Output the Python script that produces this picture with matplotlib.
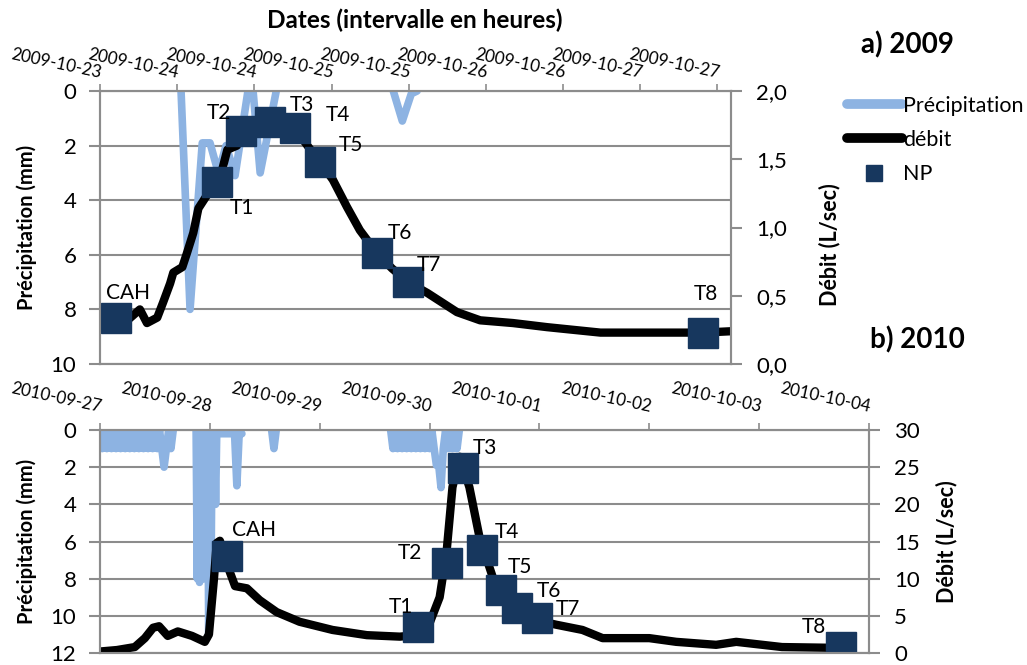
import numpy as np
import matplotlib.pyplot as plt
from matplotlib.lines import Line2D

plt.rcParams['font.family'] = ['Lato', 'DejaVu Sans']

# ---------------- 2009 event (hours since 2009-10-23 00:00) ----------------
dates_2009 = ['2009-10-23', '2009-10-24', '2009-10-24', '2009-10-25', '2009-10-25',
              '2009-10-26', '2009-10-26', '2009-10-27', '2009-10-27']

flow_h_2009 = [0.0, 2.3, 3.1, 4.5, 6.2, 7.3, 8.9, 9.8, 10.9, 11.4,
               12.8, 13.5, 14.5, 15.3, 16.4, 18.7, 19.8, 21.3, 21.8, 24.1,
               26.4, 28.8, 30.3, 31.6, 34.2, 36.2, 38.4, 40.4, 43.1, 45.4,
               47.9, 50.9, 55.5, 59.1, 64.2, 69.5, 77.8, 85.1, 93.8, 98.1]
flow_2009 = [0.33, 0.34, 0.26, 0.33, 0.40, 0.30, 0.34, 0.45, 0.59, 0.67,
             0.71, 0.81, 0.96, 1.14, 1.22, 1.37, 1.57, 1.60, 1.70, 1.76,
             1.77, 1.76, 1.73, 1.64, 1.48, 1.35, 1.15, 0.98, 0.81, 0.70,
             0.60, 0.52, 0.38, 0.32, 0.30, 0.27, 0.23, 0.23, 0.23, 0.24]

rain_h_2009 = [12.6, 14.0, 15.9, 17.1, 18.4, 19.6, 21.0, 23.0, 23.8, 24.9, 27.4,
               np.nan, 45.6, 47.0, 48.4, 49.3]
rain_2009 = [0, 8.0, 1.9, 1.9, 3.0, 2.0, 3.1, 0, 0, 3.0, 0,
             np.nan, 0, 1.1, 0.1, 0]

np_names = ['CAH', 'T1', 'T2', 'T3', 'T4', 'T5', 'T6', 'T7', 'T8']
np_h_2009 = [2.5, 18.2, 21.9, 26.4, 30.3, 34.2, 43.1, 47.9, 93.8]
np_q_2009 = [0.34, 1.33, 1.71, 1.77, 1.73, 1.48, 0.81, 0.60, 0.23]

# ---------------- 2010 event (hours since 2010-09-27 00:00) ----------------
dates_2010 = ['2010-09-27', '2010-09-28', '2010-09-29', '2010-09-30',
              '2010-10-01', '2010-10-02', '2010-10-03', '2010-10-04']

flow_h_2010 = [0.0, 3.7, 7.6, 9.8, 11.6, 12.9, 14.8, 17.0, 20.1, 22.9,
               23.8, 24.9, 25.5, 26.2, 27.7, 29.5, 32.1, 34.9, 38.6, 43.6,
               50.8, 58.3, 65.5, 69.2, 72.0, 74.2, 75.7, 77.0, 78.6, 80.7,
               82.9, 85.8, 87.7, 91.2, 95.4, 99.7, 105.4, 109.8, 120.0, 125.9,
               134.6, 139.0, 149.0, 159.9, 162.6]
flow_2010 = [0.2, 0.4, 0.8, 2.0, 3.4, 3.6, 2.3, 2.9, 2.3, 1.5,
             2.5, 10.0, 14.8, 15.1, 12.0, 9.0, 8.7, 7.1, 5.5, 4.2,
             3.1, 2.4, 2.2, 2.4, 4.0, 7.5, 13.5, 22.3, 26.4, 22.3,
             15.6, 10.2, 8.2, 6.1, 4.4, 3.8, 3.1, 2.0, 2.0, 1.5,
             1.1, 1.5, 0.8, 0.7, 0.8]

# rain, first day (half-hour readings)
rain_a_h = [0.5, 1.0, 1.5, 2.0, 2.5, 3.0, 3.5, 4.0, 4.5, 5.0, 5.5, 6.0, 6.5, 7.0, 7.5, 8.0,
            8.5, 9.0, 9.5, 10.0, 10.5, 11.0, 11.5, 12.0, 12.5, 13.0, 13.5, 14.0, 14.5, 15.0,
            15.5, 16.0]
rain_a = [1, 0, 1, 0, 1, 0, 1, 0, 1, 0, 1, 0, 1, 0, 1, 0,
          1, 0, 1, 0, 1, 0, 1, 0, 1, 0, 1, 2.0, 1, 0,
          1, 0]
# storm of 2010-09-27 evening
rain_b_h = [21.0, 21.25, 21.5, 21.75, 22.0, 22.25, 22.5, 22.75, 23.0, 23.25, 23.5, 23.75,
            24.0, 24.25, 24.5, 24.75, 25.0, 25.25, 25.5, 29.4, 29.9, 30.4, 31.0]
rain_b = [0, 8.0, 0, 8.2, 0, 8.0, 0, 8.0, 0, 8.0, 0, 11.0,
          0, 8.0, 0, 4.0, 0, 4.0, 0.2, 0.2, 3.0, 0.2, 0.2]
rain_c_h = [37.5, 38.0, 38.5]
rain_c = [0, 1.0, 0]
# rain of 2010-09-29 / 30
rain_d_h = [63.5, 64.0, 64.5, 65.0, 65.5, 66.0, 66.5, 67.0, 67.5, 68.0, 68.5, 69.0,
            69.5, 70.0, 70.5, 71.0, 71.5, 72.0, 72.5, 73.0, 73.5, 74.0, 74.5, 75.0,
            75.5, 76.0, 76.5, 77.0, 77.5, 78.0, 78.5]
rain_d = [0, 1, 0, 1, 0, 1, 0, 1, 0, 1, 0, 1,
          0, 1, 0, 1, 0, 1, 0, 1, 1.9, 1.9, 3.1, 1.0,
          0, 1, 0, 1, 0, 1, 0]

np_h_2010 = [27.7, 69.4, 75.7, 79.2, 83.4, 87.7, 91.2, 95.4, 161.9]
np_q_2010 = [13.1, 3.5, 12.1, 24.9, 13.9, 8.5, 6.1, 4.7, 0.8]

# label offsets in pixels (dx, dy) from each square
offs_2009 = [(12, 25), (25, -26), (-22, 18), (32, 17), (43, 13), (31, 17), (23, 20), (21, 17), (3, 39)]
offs_2010 = [(27, 26), (-17, 20), (-37, 10), (22, 20), (25, 18), (19, 23), (31, 17), (31, 9), (-27, 20)]

rain_ticks_2009 = [0, 2, 4, 6, 8, 10]
flow_ticks_2009 = ['0,0', '0,5', '1,0', '1,5', '2,0']
rain_ticks_2010 = [0, 2, 4, 6, 8, 10, 12]
flow_ticks_2010 = [0, 5, 10, 15, 20, 25, 30]

BLUE = '#8DB3E2'
NAVY = '#17375E'
GRID = '#8C8C8C'

W, H = 1027, 665
fig = plt.figure(figsize=(W / 100, H / 100), dpi=100)


def px_axes(left, top, right, bottom):
    return fig.add_axes([left / W, 1 - bottom / H, (right - left) / W, (bottom - top) / H])


def style(ax, ax2):
    for a in (ax, ax2):
        for s in a.spines.values():
            s.set_color(GRID)
            s.set_linewidth(1.5)
    ax.grid(axis='y', color=GRID, lw=1.5)
    ax.set_axisbelow(True)
    ax.tick_params(axis='y', direction='out', length=8, width=1.5, color=GRID,
                   labelsize=16, pad=9)
    ax2.tick_params(axis='y', direction='out', length=8, width=1.5, color=GRID,
                    labelsize=16, pad=10)
    ax.tick_params(axis='x', direction='out', length=5, width=1.2, color=GRID,
                   labelsize=12.3, top=True, bottom=False, labeltop=True, labelbottom=False)


def draw(ax, ax2, rain_h, rain, flow_h, flow, pts_h, pts_q, offs):
    ax.plot(rain_h, rain, color=BLUE, lw=5.5, solid_joinstyle='round', solid_capstyle='round')
    ax2.plot(flow_h, flow, color='black', lw=6, solid_joinstyle='round', solid_capstyle='round')
    ax2.plot(pts_h, pts_q, ls='none', marker='s', ms=21, color=NAVY)
    for name, h, q, (dx, dy) in zip(np_names, pts_h, pts_q, offs):
        ax2.annotate(name, (h, q), xytext=(dx, dy), textcoords='offset pixels',
                     ha='center', va='center', fontsize=15)


def labels(ax, ax2, left_x, right_x, right_y):
    ax.set_ylabel('Précipitation (mm)', fontsize=14.5, fontweight='bold')
    ax.yaxis.set_label_coords(left_x, 0.5)
    ax.yaxis.label.set_va('center')
    ax2.set_ylabel('Débit (L/sec)', fontsize=15.5, fontweight='bold')
    ax2.yaxis.set_label_coords(right_x, right_y)
    ax2.yaxis.label.set_va('center')


# ---- panel a) 2009 ----
ax = px_axes(100, 91, 731, 364)
ax2 = ax.twinx()
ax.set_xlim(0, 98.1)
ax.set_ylim(10, 0)
ax2.set_ylim(0, 2)
style(ax, ax2)
ax.set_yticks(rain_ticks_2009)
ax2.set_yticks([0, 0.5, 1.0, 1.5, 2.0], flow_ticks_2009)
ax.set_xticks(np.arange(0, 97, 12), dates_2009, rotation=-12, ha='right',
              va='bottom', rotation_mode='anchor')
ax.tick_params(axis='x', pad=2)
draw(ax, ax2, rain_h_2009, rain_2009, flow_h_2009, flow_2009, np_h_2009, np_q_2009, offs_2009)
labels(ax, ax2, (27 - 100) / 631, (830 - 100) / 631, (364 - 245) / 273)

# ---- panel b) 2010 ----
bx = px_axes(100, 430, 869, 653)
bx2 = bx.twinx()
bx.set_xlim(0, 168)
bx.set_ylim(12, 0)
bx2.set_ylim(0, 30)
style(bx, bx2)
bx.set_yticks(rain_ticks_2010)
bx2.set_yticks(flow_ticks_2010)
bx.set_xticks(np.arange(0, 169, 24), dates_2010, rotation=-12, ha='right',
              va='bottom', rotation_mode='anchor')
bx.tick_params(axis='x', pad=6)
nan = [np.nan]
rain_h_2010 = rain_a_h + nan + rain_b_h + nan + rain_c_h + nan + rain_d_h
rain_2010 = rain_a + nan + rain_b + nan + rain_c + nan + rain_d
draw(bx, bx2, rain_h_2010, rain_2010, flow_h_2010, flow_2010, np_h_2010, np_q_2010, offs_2010)
labels(bx, bx2, (27 - 100) / 769, (947 - 100) / 769, 0.5)

# ---- titles and legend ----
fig.text(415 / W, 1 - 20 / H, 'Dates (intervalle en heures)', ha='center', va='center',
         fontsize=17.5, fontweight='bold')
fig.text(907 / W, 1 - 45 / H, 'a) 2009', ha='center', va='center', fontsize=20, fontweight='bold')
fig.text(917 / W, 1 - 340 / H, 'b) 2010', ha='center', va='center', fontsize=20, fontweight='bold')

handles = [Line2D([], [], color=BLUE, lw=7, solid_capstyle='round'),
           Line2D([], [], color='black', lw=7, solid_capstyle='round'),
           Line2D([], [], ls='none', marker='s', ms=12, color=NAVY)]
fig.legend(handles, ['Précipitation', 'débit', 'NP'], loc='upper left',
           bbox_to_anchor=(836 / W, 1 - 85 / H), frameon=False, fontsize=15.5,
           handlelength=2.55, handletextpad=0.08, labelspacing=0.66, borderpad=0)

fig.savefig('out.png', dpi=100)
